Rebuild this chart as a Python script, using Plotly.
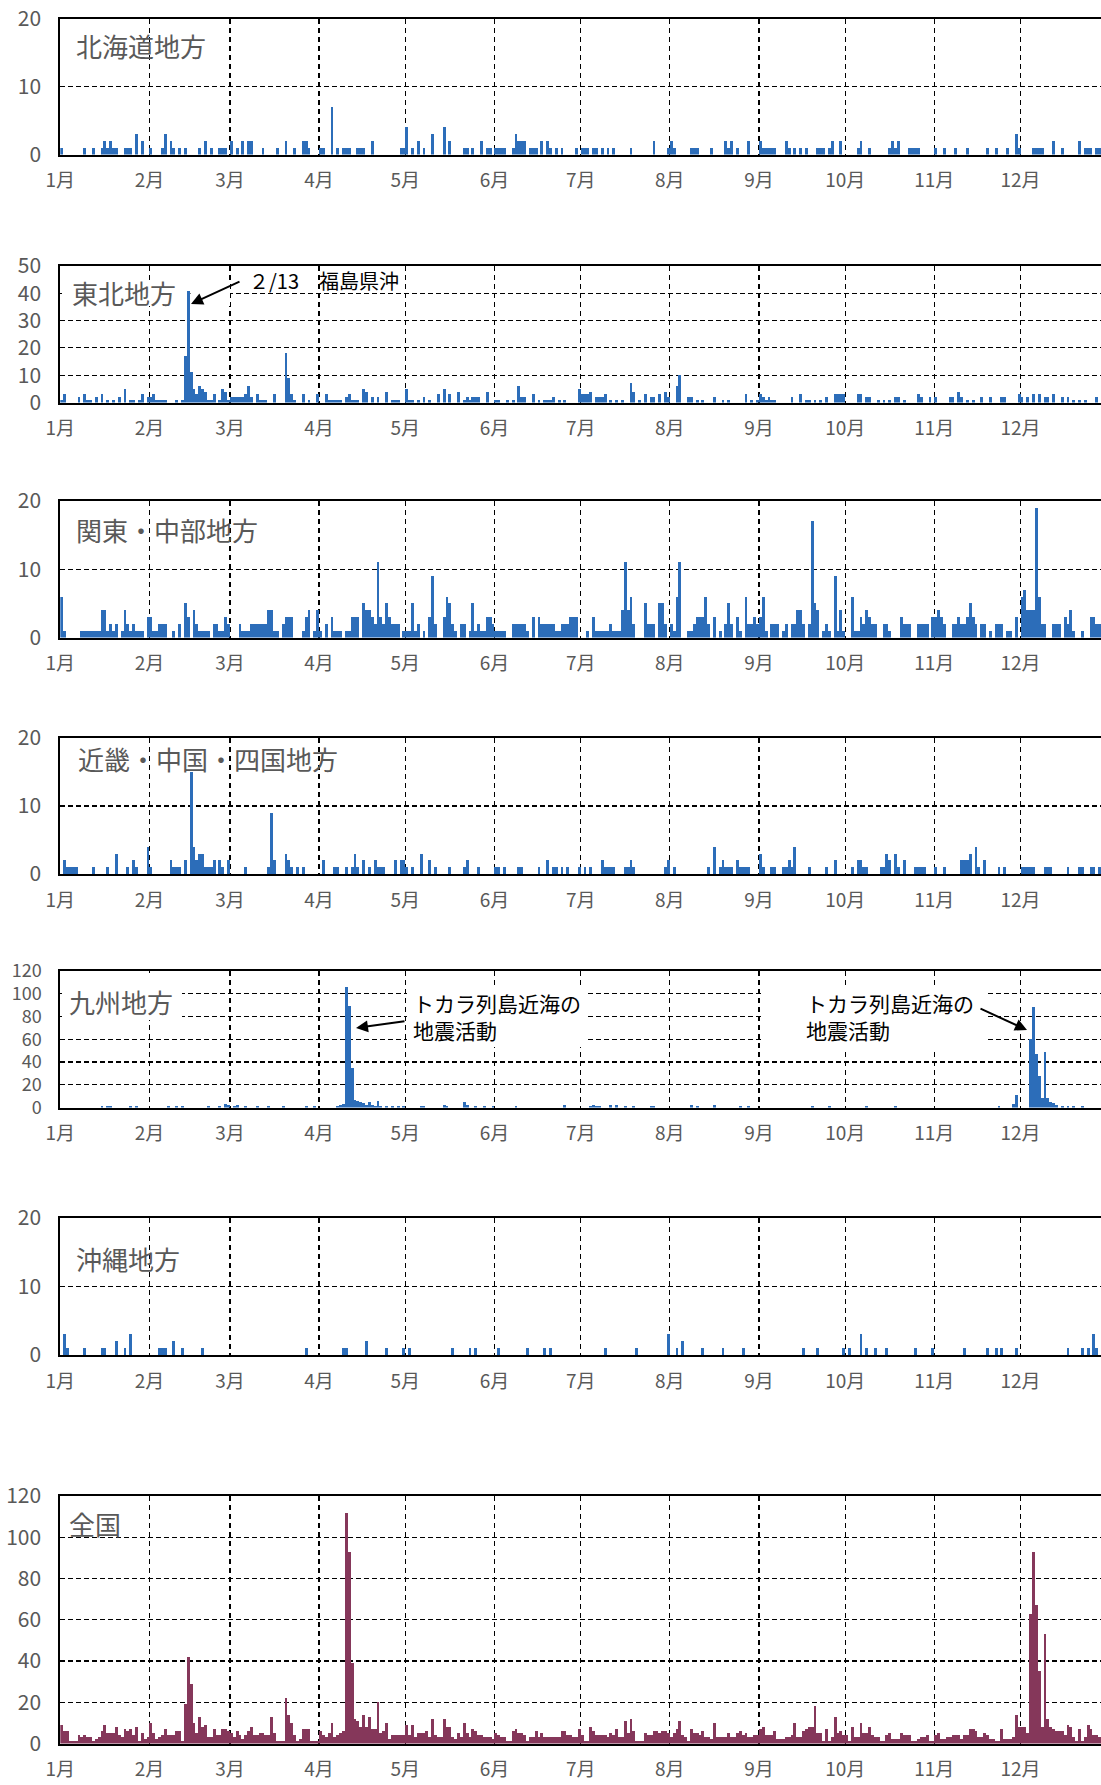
import numpy as np
import plotly.graph_objects as go

# ---------------- data ----------------
month_labels = ["1月", "2月", "3月", "4月", "5月", "6月", "7月", "8月", "9月", "10月", "11月", "12月"]
month_start_day = [0, 31, 59, 90, 120, 151, 181, 212, 243, 273, 304, 334]
days = np.arange(365)

region_names = ["北海道地方", "東北地方", "関東・中部地方", "近畿・中国・四国地方", "九州地方", "沖縄地方", "全国"]

# (day index from Jan 1, daily count) for days with events
hokkaido = [(0,1),(8,1),(11,1),(14,1),(15,2),(16,1),(17,2),(18,1),(19,1),(22,1),(23,1),(24,1),(26,3),(28,2),
            (31,1),(35,1),(36,3),(38,2),(39,1),(41,1),(43,1),(48,1),(50,2),(52,1),(55,1),(56,1),(57,1),(59,2),
            (61,1),(63,2),(65,2),(66,2),(70,1),(75,1),(78,2),(81,1),(84,2),(85,2),(86,1),(90,1),(91,1),(94,7),
            (96,1),(98,1),(99,1),(100,1),(103,1),(104,1),(105,1),(108,2),(118,1),(119,1),(120,4),(122,1),(124,2),
            (126,1),(129,3),(133,4),(135,2),(140,1),(141,1),(143,1),(146,2),(148,1),(149,1),(151,1),(152,1),
            (153,1),(154,1),(157,1),(158,3),(159,2),(160,2),(161,2),(163,1),(164,1),(165,1),(167,2),(169,2),
            (170,1),(172,1),(174,1),(179,1),(181,1),(182,1),(183,1),(185,1),(186,1),(188,1),(190,1),(192,1),
            (198,1),(206,2),(211,1),(212,2),(213,1),(219,1),(220,1),(221,1),(226,1),(231,2),(232,1),(233,2),
            (235,1),(239,2),(243,2),(244,1),(245,1),(246,1),(247,1),(248,1),(252,2),(253,1),(255,1),(257,1),
            (259,1),(263,1),(264,1),(265,1),(267,1),(268,2),(271,2),(277,1),(278,2),(281,1),(288,1),(289,2),
            (290,1),(291,2),(295,1),(296,1),(297,1),(298,1),(304,1),(307,1),(311,1),(315,1),(322,1),(325,1),
            (329,1),(332,3),(333,1),(338,1),(339,1),(340,1),(341,1),(345,2),(348,1),(354,2),(356,1),(357,1),
            (358,1),(360,1),(361,1)]

tohoku = [(0,1),(1,3),(6,2),(8,3),(9,1),(10,1),(12,2),(14,3),(16,1),(18,1),(20,2),(22,5),(24,1),(25,1),(27,1),
          (28,3),(30,2),(31,2),(32,3),(33,1),(34,1),(35,1),(36,1),(40,1),(42,1),(43,17),(44,41),(45,11),(46,5),
          (47,3),(48,6),(49,5),(50,4),(51,1),(52,1),(53,3),(55,1),(56,5),(57,4),(58,1),(59,2),(60,2),(61,2),
          (62,2),(63,2),(64,3),(65,6),(66,2),(68,3),(69,1),(70,1),(71,1),(74,3),(78,18),(79,9),(80,3),(81,1),
          (84,3),(86,1),(89,3),(92,3),(93,1),(94,1),(95,1),(96,1),(97,1),(99,2),(100,3),(101,1),(102,1),
          (103,1),(105,5),(106,4),(108,2),(110,2),(113,4),(115,1),(116,1),(117,1),(120,5),(121,1),(122,1),
          (124,1),(126,2),(128,1),(131,3),(133,5),(135,3),(138,4),(140,1),(141,2),(142,1),(143,2),(144,2),
          (145,2),(148,4),(151,1),(152,1),(155,1),(157,1),(159,6),(160,2),(161,2),(164,3),(166,1),(168,1),
          (169,1),(170,1),(171,2),(173,1),(175,1),(180,5),(181,3),(182,3),(183,3),(184,4),(186,2),(187,2),
          (188,2),(189,3),(191,1),(193,1),(195,1),(198,7),(199,4),(201,1),(203,3),(205,2),(206,2),(208,3),
          (210,4),(211,2),(214,6),(215,10),(218,2),(219,2),(221,1),(223,1),(227,2),(230,1),(232,1),(238,3),
          (240,1),(242,1),(243,3),(244,2),(245,1),(246,2),(247,1),(248,1),(254,2),(257,3),(259,1),(260,1),
          (262,1),(264,1),(266,2),(269,3),(270,3),(271,3),(272,3),(277,3),(278,3),(280,2),(281,2),(284,1),
          (286,1),(288,1),(290,2),(291,2),(293,1),(298,3),(299,2),(302,2),(304,2),(309,2),(310,2),(312,4),
          (313,2),(315,1),(317,1),(320,2),(323,2),(327,2),(328,2),(333,3),(334,2),(336,2),(338,3),(340,3),
          (342,2),(343,2),(345,3),(348,2),(350,2),(352,1),(354,1),(356,1),(360,2)]

kanto_chubu = [(0,6),(1,1),(7,1),(8,1),(9,1),(10,1),(11,1),(12,1),(13,1),(14,4),(15,4),(16,1),(17,2),(18,1),
               (19,2),(21,1),(22,4),(23,2),(24,1),(25,2),(26,1),(27,1),(28,1),(30,3),(31,3),(32,1),(33,1),(34,2),
               (35,2),(36,2),(39,1),(41,2),(43,5),(44,3),(46,4),(47,2),(48,1),(49,1),(50,1),(51,1),(53,2),(54,2),
               (55,1),(56,1),(57,3),(58,2),(62,2),(63,1),(64,1),(65,1),(66,2),(67,2),(68,2),(69,2),(70,2),(71,2),
               (72,4),(73,4),(74,1),(75,1),(77,2),(78,3),(79,3),(80,3),(84,1),(85,3),(86,4),(88,1),(89,4),(90,1),
               (92,2),(94,3),(95,1),(96,1),(97,1),(99,1),(100,1),(101,3),(102,3),(103,3),(105,5),(106,4),(107,4),
               (108,3),(109,2),(110,11),(111,3),(112,2),(113,5),(114,3),(115,2),(116,2),(117,2),(119,1),(120,1),
               (121,1),(122,5),(123,1),(124,2),(126,1),(128,3),(129,9),(130,2),(133,3),(134,6),(135,5),(136,2),
               (137,1),(139,2),(140,2),(142,1),(143,5),(144,1),(145,2),(146,1),(147,1),(148,3),(149,3),(150,2),
               (151,1),(152,1),(153,1),(154,1),(157,2),(158,2),(159,2),(160,2),(161,2),(162,1),(164,3),(166,3),
               (167,2),(168,2),(169,2),(170,2),(171,2),(172,1),(173,1),(174,2),(175,2),(176,2),(177,3),(178,3),
               (179,3),(183,1),(185,3),(186,1),(187,1),(188,1),(189,1),(190,1),(191,2),(192,1),(193,1),(194,1),
               (195,4),(196,11),(197,4),(198,6),(199,2),(203,5),(204,2),(205,2),(206,2),(208,5),(209,5),(210,2),
               (212,2),(213,1),(214,6),(215,11),(218,1),(219,1),(220,2),(221,3),(222,3),(223,3),(224,6),(225,2),
               (227,3),(229,1),(231,2),(232,5),(233,2),(235,3),(236,1),(238,6),(239,2),(240,2),(241,3),(242,2),
               (243,3),(244,6),(245,1),(247,2),(248,2),(249,2),(251,1),(252,2),(254,2),(255,2),(256,4),(257,4),
               (258,2),(260,2),(261,17),(262,5),(263,4),(265,1),(266,2),(267,1),(269,9),(270,1),(271,4),(272,1),
               (275,6),(276,1),(277,1),(278,3),(279,2),(280,4),(281,3),(282,2),(283,2),(286,2),(287,2),(288,1),
               (292,3),(293,2),(294,2),(295,2),(298,2),(299,2),(300,2),(301,2),(303,3),(304,3),(305,4),(306,3),
               (307,2),(310,2),(311,2),(312,3),(313,2),(314,2),(315,3),(316,5),(317,3),(318,2),(320,2),(321,2),
               (323,1),(325,2),(326,2),(327,2),(329,1),(330,1),(332,3),(334,6),(335,7),(336,4),(337,4),(338,4),
               (339,19),(340,6),(341,2),(342,2),(345,2),(346,2),(347,2),(349,3),(350,2),(351,4),(352,1),(355,1),
               (358,3),(359,3),(360,2),(361,2)]

kinki_chugoku_shikoku = [(1,2),(2,1),(3,1),(4,1),(5,1),(11,1),(16,1),(19,3),(23,1),(25,2),(26,1),(30,4),(31,1),
                         (38,2),(39,1),(40,1),(41,1),(43,2),(45,15),(46,4),(47,2),(48,3),(49,3),(50,1),(51,1),
                         (52,1),(53,2),(55,2),(56,1),(58,2),(64,1),(72,1),(73,9),(74,2),(78,3),(79,2),(80,1),(82,1),
                         (84,1),(91,2),(95,1),(96,1),(99,1),(101,1),(102,3),(103,1),(105,2),(107,1),(109,2),(110,1),
                         (111,1),(112,1),(116,2),(118,2),(119,2),(120,1),(122,1),(125,3),(128,2),(130,1),(135,1),
                         (140,1),(141,2),(145,1),(151,1),(152,1),(154,1),(159,1),(160,1),(166,1),(169,2),(171,1),
                         (172,1),(174,1),(176,1),(180,1),(182,1),(184,1),(188,2),(189,1),(190,1),(191,1),(192,1),
                         (196,1),(197,1),(198,2),(199,1),(210,1),(211,2),(213,1),(225,1),(227,4),(229,1),(230,2),
                         (231,1),(232,1),(233,1),(235,2),(236,1),(237,1),(238,1),(239,1),(243,3),(244,1),(247,1),
                         (248,1),(251,1),(252,1),(253,2),(254,1),(255,4),(260,1),(266,1),(269,2),(275,1),(277,2),
                         (278,2),(279,1),(280,1),(285,1),(286,1),(287,3),(288,2),(290,3),(291,1),(293,2),(297,1),
                         (298,1),(299,1),(300,1),(304,1),(307,1),(313,2),(314,2),(315,2),(316,3),(318,4),(319,1),
                         (321,2),(326,1),(328,1),(334,1),(335,1),(336,1),(337,1),(338,1),(342,1),(343,1),(344,1),
                         (350,1),(354,1),(355,1),(358,1),(359,1),(361,1)]

kyushu = [(14,1),(16,1),(17,1),(24,1),(26,1),(37,1),(40,1),(42,1),(51,1),(55,1),(57,3),(58,2),(60,1),(61,2),(64,1),
          (68,1),(72,1),(77,1),(85,1),(88,1),(96,1),(97,2),(98,3),(99,106),(100,89),(101,35),(102,7),(103,6),(104,5),
          (105,4),(106,2),(107,5),(108,2),(109,1),(110,6),(111,1),(113,1),(115,1),(117,1),(119,1),(125,1),(126,1),
          (133,2),(134,1),(140,5),(141,2),(144,1),(147,1),(150,1),(158,1),(175,2),(184,1),(185,2),(186,1),(187,1),
          (191,2),(193,2),(196,1),(199,1),(205,1),(206,1),(219,2),(221,1),(227,2),(236,1),(239,1),(261,1),(267,1),
          (280,1),(290,1),(326,1),(331,3),(332,11),(337,60),(338,88),(339,47),(340,28),(341,8),(342,49),(343,8),
          (344,5),(345,4),(346,2),(348,1),(350,1),(352,1),(355,1)]

okinawa = [(1,3),(2,1),(8,1),(14,1),(15,1),(19,2),(22,1),(24,3),(34,1),(35,1),(36,1),(39,2),(42,1),(49,1),(85,1),
           (98,1),(99,1),(106,2),(113,1),(119,1),(121,1),(136,1),(142,1),(144,1),(152,1),(162,1),(168,1),(170,1),
           (189,1),(200,1),(211,3),(214,1),(216,2),(223,1),(230,1),(237,1),(258,1),(263,1),(272,1),(274,1),(278,3),
           (280,1),(283,1),(287,1),(297,1),(303,1),(314,1),(322,1),(325,1),(327,1),(332,1),(350,1),(355,1),(357,1),
           (359,3),(360,1)]

# nationwide daily totals, Jan 1 .. Dec 31
zenkoku = [9,6,6,1,1,1,4,3,4,3,
           3,1,2,3,6,9,5,5,5,8,
           4,3,7,6,7,4,8,1,5,2,
           3,10,5,2,3,4,7,4,4,4,
           6,6,1,19,42,29,10,5,13,8,
           9,3,3,7,4,4,7,7,6,5,
           3,6,4,2,4,6,8,4,4,5,
           5,4,4,13,5,1,1,1,22,14,
           10,4,1,2,7,7,7,1,1,1,
           6,4,3,5,10,3,4,5,6,112,
           93,39,12,11,8,14,8,13,7,7,
           20,5,6,10,2,4,4,4,4,4,
           9,4,9,3,5,5,5,6,3,12,
           4,3,3,12,8,8,3,2,5,3,
           10,5,3,7,6,4,4,3,3,3,
           2,5,4,3,3,1,1,6,7,5,
           5,4,1,3,3,6,3,5,3,3,
           3,3,3,3,6,6,4,4,3,3,
           7,4,1,1,8,6,4,4,4,4,
           3,5,4,7,3,3,11,5,12,6,
           1,1,1,5,4,4,6,6,5,6,
           6,5,3,5,7,11,4,3,1,7,
           5,5,4,6,3,3,2,10,3,3,
           3,3,5,3,3,5,6,4,5,3,
           3,4,4,7,8,4,4,4,6,2,
           2,2,3,3,4,10,3,3,6,7,
           8,8,18,5,5,1,7,1,3,13,
           5,6,4,4,1,8,3,3,10,5,
           5,8,4,3,3,1,1,4,5,2,
           2,2,5,4,4,4,1,1,2,3,
           3,4,1,1,4,5,2,2,3,3,
           4,4,4,2,4,4,7,7,6,3,
           3,5,4,2,2,1,1,7,2,2,
           2,3,14,8,8,8,5,63,93,67,
           35,8,53,12,8,7,6,6,6,4,
           9,8,3,1,7,1,3,9,7,4,
           4,3,3,3,3]


def to_daily(pairs):
    arr = np.zeros(365)
    for d, v in pairs:
        arr[d] = v
    return arr


series = [to_daily(hokkaido), to_daily(tohoku), to_daily(kanto_chubu), to_daily(kinki_chugoku_shikoku),
          to_daily(kyushu), to_daily(okinawa), np.array(zenkoku, dtype=float)]

# ---------------- layout ----------------
W, H = 1101, 1785
LEFT = 60.3
PX_PER_DAY = 2.875
x_end = (W - LEFT) / PX_PER_DAY

BLUE = "#2C6DB9"
MAROON = "#85375A"
GRAY = "#595959"
TICK_FONT = "Liberation Sans Narrow, Noto Sans CJK JP, sans-serif"
JP_FONT = "Noto Sans CJK JP, sans-serif"

# (top px, zero-line px, y max, y step, title x px, title y px, y tick font size)
panels = [
    (19, 154.5, 20, 10, 74, 45, 21),
    (266, 402.5, 50, 10, 70, 293, 21),
    (501, 637.5, 20, 10, 74, 529, 21),
    (738, 874, 20, 10, 76, 758, 21),
    (971, 1107.5, 120, 20, 67, 1001, 18),
    (1218, 1355, 20, 10, 74, 1258, 21),
    (1496, 1743.5, 120, 20, 67, 1523, 21),
]


def px(x):
    return x / W


def py(y):
    return 1 - y / H


fig = go.Figure()
annotations = []
layout_axes = {}
for i, (vals, (top, zero, ymax, dt, tx, ty, yfs)) in enumerate(zip(series, panels)):
    n = i + 1
    xa, ya = ("x", "y") if n == 1 else (f"x{n}", f"y{n}")
    color = MAROON if n == 7 else BLUE
    fig.add_trace(go.Bar(x=days + 0.5, y=vals, width=1, xaxis=xa, yaxis=ya,
                         marker=dict(color=color, line=dict(width=0)),
                         showlegend=False, hoverinfo="skip"))
    layout_axes["xaxis" if n == 1 else f"xaxis{n}"] = dict(
        domain=[LEFT / W, 1], range=[0, x_end], anchor=ya, automargin=False,
        tickmode="array", tickvals=month_start_day, ticktext=month_labels,
        showgrid=True, gridcolor="black", gridwidth=1.2, griddash="5px,4px",
        showline=True, linecolor="black", linewidth=2, mirror=True,
        ticks="", zeroline=False, ticklabelstandoff=8,
        tickfont=dict(family=TICK_FONT, size=19, color=GRAY), fixedrange=True)
    layout_axes["yaxis" if n == 1 else f"yaxis{n}"] = dict(
        domain=[py(zero), py(top)], range=[0, ymax], anchor=xa, automargin=False,
        tick0=0, dtick=dt,
        showgrid=True, gridcolor="black", gridwidth=1.2, griddash="5px,3px",
        showline=True, linecolor="black", linewidth=2, mirror=False,
        ticks="", zeroline=False, ticklabelstandoff=13,
        tickfont=dict(family=TICK_FONT, size=yfs, color=GRAY), fixedrange=True)
    annotations.append(dict(x=px(tx), y=py(ty), xref="paper", yref="paper",
                            text=region_names[i], showarrow=False, xanchor="left", yanchor="middle",
                            font=dict(family=JP_FONT, size=26, color=GRAY)))

# white boxes that hide the grid behind some labels (kept clear of the bars)
shapes = []
for (x0, y0, x1, y1) in [(62, 281, 186, 306), (190.5, 281, 230, 306),
                         (62, 973, 182, 1020), (407, 988, 588, 1047), (761, 988, 985, 1048)]:
    shapes.append(dict(type="rect", xref="paper", yref="paper", x0=px(x0), x1=px(x1), y0=py(y1), y1=py(y0),
                       fillcolor="white", line=dict(width=0), layer="above"))

# text annotations
annotations.append(dict(x=px(247), y=py(280), xref="paper", yref="paper", text="２/13　福島県沖",
                        showarrow=False, xanchor="left", yanchor="middle",
                        font=dict(family=JP_FONT, size=20, color="black")))
for tx in (411, 804):
    annotations.append(dict(x=px(tx), y=py(1016), xref="paper", yref="paper",
                            text="トカラ列島近海の<br>地震活動", align="left",
                            showarrow=False, xanchor="left", yanchor="middle",
                            font=dict(family=JP_FONT, size=21, color="black")))

# arrows: (tail x, tail y, head x, head y)
for (tx0, ty0, hx, hy) in [(241, 281, 191, 304), (406, 1021, 356, 1028), (979, 1008, 1027, 1030)]:
    annotations.append(dict(x=px(hx), y=py(hy), xref="paper", yref="paper",
                            ax=tx0 - hx, ay=ty0 - hy, axref="pixel", ayref="pixel",
                            text="", showarrow=True, arrowhead=2, arrowsize=1.2, arrowwidth=2,
                            arrowcolor="black", standoff=0, startstandoff=0))

fig.update_layout(width=W, height=H, autosize=False,
                  margin=dict(l=0, r=0, t=0, b=0, autoexpand=False),
                  paper_bgcolor="white", plot_bgcolor="white",
                  bargap=0, showlegend=False,
                  annotations=annotations, shapes=shapes, **layout_axes)

fig.write_html("out.html",
               config={"displayModeBar": False, "staticPlot": True},
               post_script="document.body.style.margin='0';document.body.style.padding='0';"
                           "document.documentElement.style.overflow='hidden';")
